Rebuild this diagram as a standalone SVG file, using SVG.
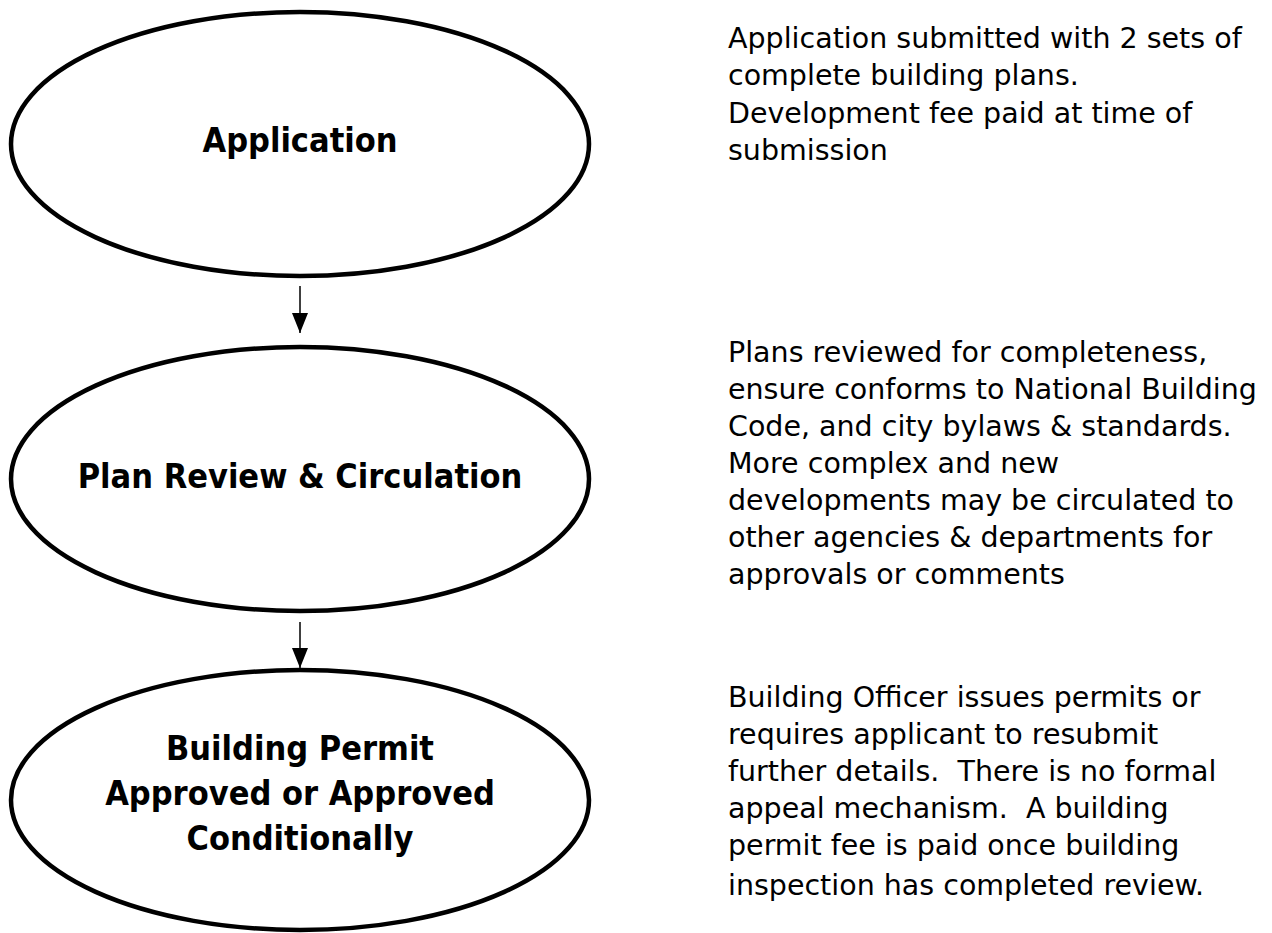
<svg xmlns="http://www.w3.org/2000/svg" width="1272" height="933" viewBox="0 0 1272 933">
<style>
.node ellipse{fill:#fff;stroke:#000;stroke-width:4.5}
.lbl{font-family:"DejaVu Sans Condensed","DejaVu Sans","Liberation Sans",sans-serif;font-stretch:condensed;font-weight:bold;font-size:34px;fill:#000;text-anchor:middle}
.desc{font-family:"DejaVu Sans","Liberation Sans",sans-serif;font-size:28.5px;fill:#000;white-space:pre}
.conn line{stroke:#000;stroke-width:1.5}
</style>
<defs>
<marker id="ah" markerUnits="userSpaceOnUse" markerWidth="20" markerHeight="16" viewBox="0 0 20 16" refX="20" refY="8" orient="auto">
<path d="M0,0 L20,8 L0,16 Z" fill="#000"/>
</marker>
</defs>
<rect width="1272" height="933" fill="#fff"/>
<g id="connectors" class="conn">
<line x1="300" y1="286" x2="300" y2="333" marker-end="url(#ah)"/>
<line x1="300" y1="622" x2="300" y2="668" marker-end="url(#ah)"/>
</g>
<g id="application" class="node">
<ellipse cx="300" cy="144" rx="289" ry="132"/>
<text class="lbl" x="300" y="152">Application</text>
</g>
<g id="plan-review" class="node">
<ellipse cx="300" cy="479" rx="289" ry="132"/>
<text class="lbl" x="300" y="488">Plan Review &amp; Circulation</text>
</g>
<g id="permit" class="node">
<ellipse cx="300" cy="800" rx="289" ry="130"/>
<text class="lbl" x="300" y="760">Building Permit</text>
<text class="lbl" x="300" y="805">Approved or Approved</text>
<text class="lbl" x="300" y="850">Conditionally</text>
</g>
<g id="desc-application">
<text class="desc" x="728" y="48">Application submitted with 2 sets of</text>
<text class="desc" x="728" y="85">complete building plans.</text>
<text class="desc" x="728" y="122.5">Development fee paid at time of</text>
<text class="desc" x="728" y="160">submission</text>
</g>
<g id="desc-plan-review">
<text class="desc" x="728" y="362">Plans reviewed for completeness,</text>
<text class="desc" x="728" y="399">ensure conforms to National Building</text>
<text class="desc" x="728" y="436">Code, and city bylaws &amp; standards.</text>
<text class="desc" x="728" y="473">More complex and new</text>
<text class="desc" x="728" y="510">developments may be circulated to</text>
<text class="desc" x="728" y="547">other agencies &amp; departments for</text>
<text class="desc" x="728" y="584">approvals or comments</text>
</g>
<g id="desc-permit">
<text class="desc" x="728" y="707">Building Officer issues permits or</text>
<text class="desc" x="728" y="744">requires applicant to resubmit</text>
<text class="desc" x="728" y="781">further details.  There is no formal</text>
<text class="desc" x="728" y="818">appeal mechanism.  A building</text>
<text class="desc" x="728" y="855">permit fee is paid once building</text>
<text class="desc" x="728" y="895">inspection has completed review.</text>
</g>
</svg>
